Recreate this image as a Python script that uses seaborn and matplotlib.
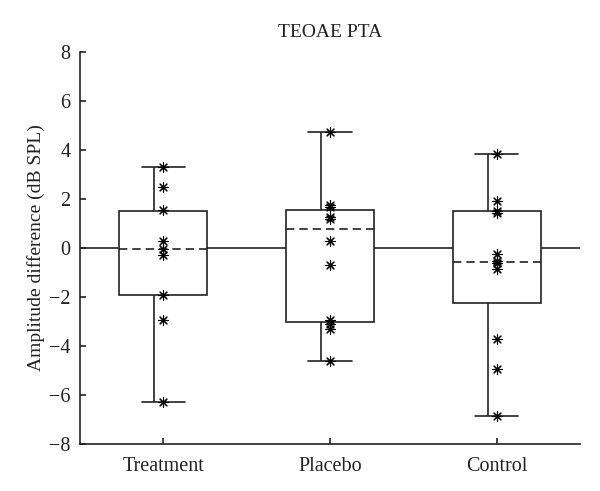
import pandas as pd
import matplotlib.pyplot as plt
import seaborn as sns

sns.set_style('white')
plt.rcParams['font.family'] = ['Liberation Serif', 'DejaVu Serif']
plt.rcParams['font.size'] = 14.5
plt.rcParams['text.color'] = '#222222'
plt.rcParams['axes.labelcolor'] = '#222222'

# values
groups = ['Treatment', 'Placebo', 'Control']
treatment = [3.29, 2.5, 1.55, 0.3, -0.04, -0.27, -1.93, -2.92, -6.28]
placebo = [4.75, 1.75, 1.68, 1.27, 1.2, 0.3, -0.7, -2.95, -3.12, -3.3, -4.6]
control = [3.85, 1.93, 1.5, 1.42, -0.25, -0.52, -0.62, -0.85, -3.7, -4.95, -6.85]

# box statistics (quartiles and median as drawn)
q1 = [-1.93, -3.02, -2.25]
med = [-0.04, 0.78, -0.56]
q3 = [1.53, 1.57, 1.52]

yticks = [-8, -6, -4, -2, 0, 2, 4, 6, 8]

df = pd.DataFrame({
    'group': ['Treatment'] * len(treatment) + ['Placebo'] * len(placebo) + ['Control'] * len(control),
    'value': treatment + placebo + control,
})
series = [treatment, placebo, control]
lo = [min(s) for s in series]
hi = [max(s) for s in series]

ink = '#222222'
lw = 1.2

fig = plt.figure(figsize=(6, 4.91), dpi=100)
ax = fig.add_axes([0.1333, 0.0957, 0.8334, 0.7983])

# zero line behind the boxes
ax.axhline(0, color=ink, lw=lw, zorder=1)

stats = []
for i in range(3):
    stats.append({'q1': q1[i], 'med': med[i], 'q3': q3[i],
                  'whislo': lo[i], 'whishi': hi[i], 'fliers': []})
pos = [0, 1, 2]
ax.bxp(stats, positions=pos, widths=0.53, capwidths=0.26, patch_artist=True,
       boxprops=dict(facecolor='white', edgecolor=ink, linewidth=lw),
       medianprops=dict(color=ink, linewidth=lw, linestyle=(0, (5, 3))),
       whiskerprops=dict(visible=False),
       capprops=dict(color=ink, linewidth=lw),
       zorder=2)

# whiskers sit a little left of centre in the original
for i in range(3):
    ax.vlines(pos[i] - 0.055, q3[i], hi[i], color=ink, lw=lw, zorder=2)
    ax.vlines(pos[i] - 0.055, lo[i], q1[i], color=ink, lw=lw, zorder=2)

sns.stripplot(data=df, x='group', y='value', order=groups, jitter=False,
              marker=(8, 2, 0), s=7, color='k', linewidth=0.8, zorder=5, ax=ax)

ax.set_xlim(-0.5, 2.5)
ax.set_ylim(-8, 8)
ax.set_xticks(pos)
ax.set_xticklabels(groups)
ax.set_yticks(yticks)
ax.set_xlabel('')
ax.set_ylabel('Amplitude difference (dB SPL)', fontsize=14, labelpad=3)
ax.set_title('TEOAE PTA', fontsize=14, pad=11)

for side in ['top', 'right']:
    ax.spines[side].set_visible(False)
for side in ['left', 'bottom']:
    ax.spines[side].set_color(ink)
    ax.spines[side].set_linewidth(lw)
ax.tick_params(direction='in', length=4, width=lw, colors=ink, left=True, bottom=True)
ax.tick_params(axis='x', pad=9)
ax.tick_params(axis='y', pad=7)

plt.savefig('out.png', dpi=100)
